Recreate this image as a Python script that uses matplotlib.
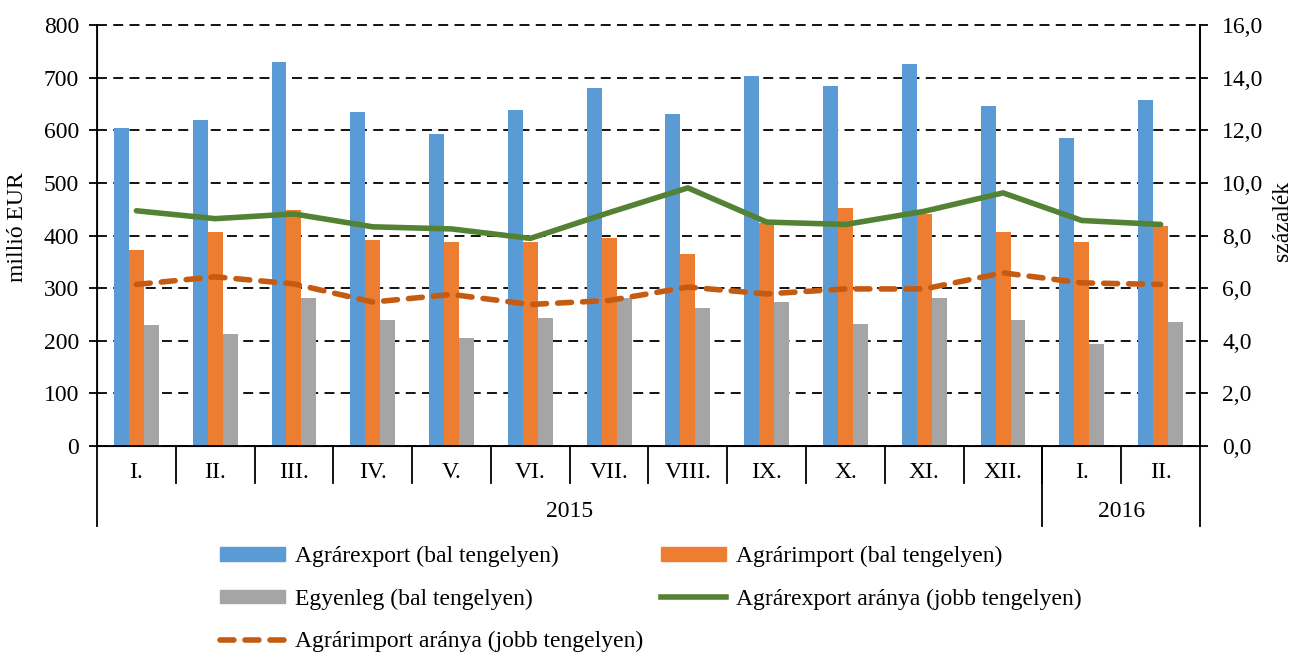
import matplotlib.pyplot as plt
from matplotlib.patches import Patch
from matplotlib.lines import Line2D
import numpy as np

# ======================
# Data
# ======================

months = ["I.", "II.", "III.", "IV.", "V.", "VI.", "VII.", "VIII.",
          "IX.", "X.", "XI.", "XII.", "I.", "II."]
years = ["2015", "2016"]
year_counts = [12, 2]

export = [604, 619, 729, 634, 593, 639, 680, 631, 704, 685, 726, 646, 585, 658]
imports = [372, 406, 448, 391, 388, 388, 396, 365, 424, 452, 441, 406, 388, 418]
balance = [229, 213, 282, 240, 206, 244, 282, 263, 274, 232, 282, 240, 194, 235]

export_share = [8.94, 8.64, 8.82, 8.33, 8.25, 7.89, 8.87, 9.81,
                8.51, 8.42, 8.92, 9.62, 8.57, 8.42]
import_share = [6.14, 6.43, 6.16, 5.47, 5.76, 5.38, 5.53, 6.04,
                5.78, 5.97, 5.97, 6.58, 6.20, 6.14]

c_exp = "#5B9BD5"
c_imp = "#ED7D31"
c_bal = "#A5A5A5"
c_expshare = "#548235"
c_impshare = "#C55A11"

plt.rcParams["font.family"] = ["Liberation Serif", "DejaVu Serif"]
fs = 17

# ======================
# Plot
# ======================

fig = plt.figure(figsize=(12.96, 6.55), dpi=100)
ax = fig.add_axes([97 / 1296, 1 - 446 / 655, (1200 - 97) / 1296, (446 - 25) / 655])

x = np.arange(len(months))
w = 0.19

ax.bar(x - w, export, w, color=c_exp, zorder=2)
ax.bar(x, imports, w, color=c_imp, zorder=2)
ax.bar(x + w, balance, w, color=c_bal, zorder=2)

ax.set_xlim(-0.5, len(months) - 0.5)
ax.set_ylim(0, 800)
ax.set_yticks(range(0, 801, 100))
ax.yaxis.grid(True, linestyle=(0, (5.5, 3.5)), color="black", linewidth=1.3)
for gl in ax.get_ygridlines():
    gl.set_clip_on(False)
ax.set_axisbelow(True)
ax.tick_params(axis="y", labelsize=fs, length=6, width=1.3, direction="out", pad=7)
ax.set_xticks([])
ax.set_ylabel("millió EUR", fontsize=fs)
ax.yaxis.set_label_coords(-0.063, 0.52)

ax.spines["top"].set_visible(False)
for s in ["left", "right", "bottom"]:
    ax.spines[s].set_linewidth(1.3)

ax2 = ax.twinx()
ax2.plot(x, export_share, color=c_expshare, linewidth=4, solid_capstyle="round")
ax2.plot(x, import_share, color=c_impshare, linewidth=4,
         linestyle=(0, (2.5, 2)), dash_capstyle="round")
ax2.set_ylim(0, 16)
ax2.set_yticks(range(0, 17, 2))
ax2.set_yticklabels([f"{v:.1f}".replace(".", ",") for v in range(0, 17, 2)])
ax2.tick_params(axis="y", labelsize=fs, length=6, width=1.3, direction="out", pad=10)
ax2.set_ylabel("százalék", fontsize=fs, rotation=90)
ax2.yaxis.set_label_coords(1.065, 0.534)
ax2.spines["top"].set_visible(False)
ax2.spines["right"].set_linewidth(1.3)

# ======================
# Category axis
# ======================

trans = ax.get_xaxis_transform()
for i in range(1, len(months)):
    ax.plot([i - 0.5, i - 0.5], [0, -0.088], color="black", lw=1.3,
            transform=trans, clip_on=False)
for i, m in enumerate(months):
    ax.text(i, -0.064, m, ha="center", va="center", fontsize=fs, transform=trans)

start = 0
bounds = [-0.5]
for name, n in zip(years, year_counts):
    ax.text(start + (n - 1) / 2, -0.155, name, ha="center", va="center",
            fontsize=fs, transform=trans)
    start += n
    bounds.append(start - 0.5)
for b in bounds:
    ax.plot([b, b], [0, -0.19], color="black", lw=1.3,
            transform=trans, clip_on=False)

# ======================
# Legend
# ======================

col1 = [
    Patch(color=c_exp, label="Agrárexport (bal tengelyen)"),
    Patch(color=c_bal, label="Egyenleg (bal tengelyen)"),
    Line2D([], [], color=c_impshare, lw=4, linestyle=(0, (2.5, 2)),
           dash_capstyle="round", label="Agrárimport aránya (jobb tengelyen)"),
]
col2 = [
    Patch(color=c_imp, label="Agrárimport (bal tengelyen)"),
    Line2D([], [], color=c_expshare, lw=4, label="Agrárexport aránya (jobb tengelyen)"),
]
leg_kw = dict(loc="upper left", frameon=False, fontsize=fs, handlelength=2.75,
              handleheight=0.5, labelspacing=0.9, handletextpad=0.42,
              borderpad=0, borderaxespad=0)
fig.legend(handles=col1, bbox_to_anchor=(220 / 1296, 1 - 546 / 655), **leg_kw)
fig.legend(handles=col2, bbox_to_anchor=(661 / 1296, 1 - 546 / 655), **leg_kw)

fig.savefig("out.png", dpi=100)
